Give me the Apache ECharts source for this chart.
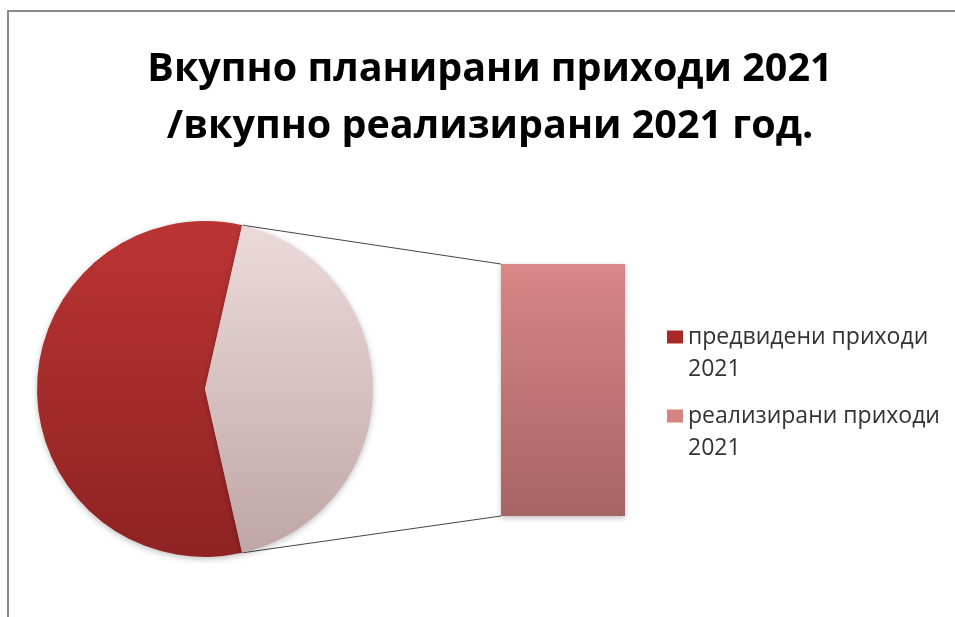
<!DOCTYPE html>
<html>
<head>
<meta charset="utf-8">
<script src="https://cdn.jsdelivr.net/npm/echarts@6/dist/echarts.min.js"></script>
<style>
html,body{margin:0;padding:0;background:#fff;}
#chart{width:955px;height:617px;}
</style>
</head>
<body>
<div id="chart"></div>
<script>
// ---- data ----
var titleText = 'Вкупно планирани приходи 2021\n/вкупно реализирани 2021 год.';
var categories = ['предвидени приходи 2021', 'реализирани приходи 2021'];
var pieValues = [57.1, 42.9];      // share of pie: planned vs realized
var barValues = [42.9];            // realized, shown in the bar

// ---- layout ----
var cx = 205, cy = 389, R = 168;
var gridL = 501, gridT = 264, gridW = 124, gridH = 252;

var total = pieValues[0] + pieValues[1];
var lightDeg = pieValues[1] / total * 360;
var darkDeg = 360 - lightDeg;
var startAngle = lightDeg / 2 + darkDeg;
var half = lightDeg / 2 * Math.PI / 180;
var pTop = [cx + R * Math.cos(half), cy - R * Math.sin(half)];
var pBot = [cx + R * Math.cos(half), cy + R * Math.sin(half)];

var chart = echarts.init(document.getElementById('chart'));
var font = 'Open Sans';
chart.setOption({
  backgroundColor: '#fff',
  animation: false,
  title: {
    text: titleText,
    left: 485,
    textAlign: 'center',
    top: 36,
    textStyle: {fontFamily: font, fontWeight: 'bold', fontSize: 39.5, lineHeight: 57, color: '#000'}
  },
  legend: {
    orient: 'vertical',
    left: 662,
    top: 284,
    itemWidth: 16,
    itemHeight: 13,
    itemGap: -17,
    icon: 'rect',
    formatter: function (n) { var i = n.lastIndexOf(' '); return ' \n' + n.slice(0, i) + '\n' + n.slice(i + 1); },
    textStyle: {fontFamily: font, fontSize: 23, lineHeight: 32, color: '#333'},
    data: [
      {name: categories[0], itemStyle: {color: '#a82828'}},
      {name: categories[1], itemStyle: {color: '#d48484'}}
    ]
  },
  grid: {left: gridL, top: gridT, width: gridW, height: gridH},
  xAxis: {type: 'category', data: [''], show: false},
  yAxis: {type: 'value', min: 0, max: barValues[0], show: false},
  graphic: [
    {type: 'polyline', shape: {points: [[8, 617], [8, 11], [955, 11]]}, style: {stroke: '#8a8a8a', lineWidth: 2, fill: null}, z: 0},
    {type: 'line', shape: {x1: pTop[0], y1: pTop[1], x2: gridL, y2: gridT}, style: {stroke: '#444', lineWidth: 1}},
    {type: 'line', shape: {x1: pBot[0], y1: pBot[1], x2: gridL, y2: gridT + gridH}, style: {stroke: '#444', lineWidth: 1}}
  ],
  series: [
    {
      type: 'pie',
      center: [cx, cy],
      radius: R,
      startAngle: startAngle,
      clockwise: true,
      label: {show: false},
      labelLine: {show: false},
      emphasis: {disabled: true},
      itemStyle: {shadowBlur: 6, shadowColor: 'rgba(0,0,0,0.25)', shadowOffsetY: 2},
      data: [
        {name: categories[0], value: pieValues[0], itemStyle: {color: new echarts.graphic.LinearGradient(0, 0, 0, 1, [{offset: 0, color: '#bb3434'}, {offset: 1, color: '#8f2222'}])}},
        {name: categories[1], value: pieValues[1], itemStyle: {color: new echarts.graphic.LinearGradient(0, 0, 0, 1, [{offset: 0, color: '#ecdada'}, {offset: 1, color: '#c0a6a6'}])}}
      ]
    },
    {
      type: 'bar',
      name: categories[1],
      data: barValues,
      barWidth: '100%',
      emphasis: {disabled: true},
      itemStyle: {
        color: new echarts.graphic.LinearGradient(0, 0, 0, 1, [{offset: 0, color: '#d98686'}, {offset: 1, color: '#a66464'}]),
        shadowBlur: 5, shadowColor: 'rgba(0,0,0,0.25)', shadowOffsetY: 2
      }
    }
  ]
});
</script>
</body>
</html>
